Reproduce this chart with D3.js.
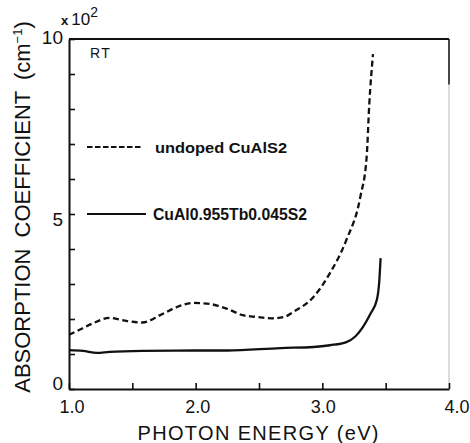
<!DOCTYPE html>
<html>
<head>
<meta charset="utf-8">
<script src="https://cdn.jsdelivr.net/npm/d3@7"></script>
<style>
  body { margin: 0; background: #fff; }
  svg { display: block; font-family: "Liberation Sans", Arial, sans-serif; }
</style>
</head>
<body>
<div id="chart"></div>
<script>
// undoped CuAlS2 (dashed)
const undopedE = [1.0, 1.1, 1.19, 1.32, 1.46, 1.58, 1.72, 1.85, 1.98, 2.11, 2.25, 2.37, 2.48, 2.6, 2.7, 2.77, 2.93, 3.06, 3.19, 3.3, 3.35, 3.37, 3.4];
const undopedA = [1.55, 1.72, 1.88, 2.03, 1.94, 1.9, 2.11, 2.34, 2.46, 2.43, 2.29, 2.11, 2.06, 2.02, 2.06, 2.2, 2.63, 3.31, 4.26, 5.49, 6.63, 8.1, 9.57];

// CuAl0.955Tb0.045S2 (solid)
const dopedE = [1.0, 1.11, 1.22, 1.32, 1.58, 2.0, 2.25, 2.67, 2.93, 3.06, 3.19, 3.26, 3.32, 3.38, 3.43, 3.45, 3.46];
const dopedA = [1.11, 1.09, 1.03, 1.06, 1.09, 1.1, 1.1, 1.17, 1.2, 1.25, 1.34, 1.5, 1.77, 2.15, 2.54, 3.1, 3.74];

const xMajor = [1, 2, 3, 4];
const xMinor = [1.5, 2.5, 3.5];
const xTickLabels = ["1.0", "2.0", "3.0", "4.0"];
const xLabelShift = [3, 2, 1, 8];
const yTicks = [0, 1, 2, 3, 4, 5, 6, 7, 8, 9, 10];
const yLabelled = [0, 5, 10];
const yLabelShift = [1, 12, 5];

const width = 470;
const height = 443;
const margin = { top: 39, right: 21, bottom: 54, left: 69 };

const svg = d3.select("#chart")
    .append("svg")
    .attr("width", width)
    .attr("height", height);

const x = d3.scaleLinear().domain([1, 4]).range([margin.left, width - margin.right]);
const y = d3.scaleLinear().domain([0, 10]).range([height - margin.bottom, margin.top]);

const toPoints = (es, as) => es.map((e, i) => [e, as[i]]);

const line = d3.line()
    .x(d => x(d[0]))
    .y(d => y(d[1]))
    .curve(d3.curveMonotoneX);

// frame: right side is faint in the scan
svg.append("line")
    .attr("x1", x(4)).attr("x2", x(4))
    .attr("y1", y(10)).attr("y2", y(0))
    .attr("stroke", "#d0d0d0").attr("stroke-width", 1.5);
svg.append("line")
    .attr("x1", x(4)).attr("x2", x(4))
    .attr("y1", y(10)).attr("y2", y(8.7))
    .attr("stroke", "#222").attr("stroke-width", 1.6);
svg.append("line")
    .attr("x1", x(1)).attr("x2", x(4))
    .attr("y1", y(10)).attr("y2", y(10))
    .attr("stroke", "#111").attr("stroke-width", 1.8);

// axes, ticks pointing inward
svg.append("g")
    .attr("transform", `translate(0,${y(0)})`)
    .call(d3.axisTop(x).tickValues(xMajor.concat(xMinor)).tickSize(6).tickSizeOuter(0).tickFormat(""))
    .call(g => g.select(".domain").attr("stroke-width", 2));

svg.append("g")
    .attr("transform", `translate(${x(1)},0)`)
    .call(d3.axisRight(y).tickValues(yTicks).tickSize(6).tickSizeOuter(0).tickFormat(""))
    .call(g => g.select(".domain").attr("stroke-width", 2));

svg.selectAll(".tick line").attr("stroke", "#111").attr("stroke-width", 1.6);
svg.selectAll(".domain").attr("stroke", "#111");

// tick labels
svg.selectAll(".xlab")
    .data(xMajor)
    .enter().append("text")
    .attr("x", (d, i) => x(d) + xLabelShift[i])
    .attr("y", y(0) + 24)
    .attr("text-anchor", "middle")
    .style("font-size", "18px")
    .style("fill", "#111")
    .text((d, i) => xTickLabels[i]);

svg.selectAll(".ylab")
    .data(yLabelled)
    .enter().append("text")
    .attr("x", x(1) - 6)
    .attr("y", (d, i) => y(d) + yLabelShift[i])
    .attr("text-anchor", "end")
    .style("font-size", "19px")
    .style("fill", "#111")
    .text(d => d);

// multiplier
const mult = svg.append("text")
    .attr("x", 61).attr("y", 25)
    .style("fill", "#111");
mult.append("tspan").style("font-size", "13px").style("font-weight", "bold").text("x");
mult.append("tspan").style("font-size", "17px").attr("dx", 3).text("10");
mult.append("tspan").style("font-size", "14px").attr("dy", -8).text("2");

// axis titles
svg.append("text")
    .attr("x", 258)
    .attr("y", 440)
    .attr("text-anchor", "middle")
    .attr("textLength", 241)
    .style("font-size", "20px")
    .style("fill", "#111")
    .text("PHOTON ENERGY (eV)");

const yt = svg.append("text")
    .attr("transform", "translate(30,207) rotate(-90)")
    .attr("text-anchor", "middle")
    .style("font-size", "22px")
    .style("word-spacing", "5px")
    .style("fill", "#111");
yt.append("tspan").text("ABSORPTION COEFFICIENT (cm");
yt.append("tspan").attr("dy", -8).style("font-size", "13px").text("−1");
yt.append("tspan").attr("dy", 8).text(")");

// RT
svg.append("text")
    .attr("x", 90).attr("y", 58)
    .style("font-size", "14px")
    .style("letter-spacing", "1.5px")
    .style("fill", "#111")
    .text("RT");

// curves
svg.append("path")
    .datum(toPoints(undopedE, undopedA))
    .attr("d", line)
    .attr("fill", "none")
    .attr("stroke", "#111")
    .attr("stroke-width", 2.3)
    .attr("stroke-dasharray", "6,3.5");

svg.append("path")
    .datum(toPoints(dopedE, dopedA))
    .attr("d", line)
    .attr("fill", "none")
    .attr("stroke", "#111")
    .attr("stroke-width", 2.3);

// legend
svg.append("line")
    .attr("x1", 87).attr("x2", 143)
    .attr("y1", 147).attr("y2", 147)
    .attr("stroke", "#111").attr("stroke-width", 2)
    .attr("stroke-dasharray", "5.5,2.5");
svg.append("text")
    .attr("x", 155).attr("y", 153)
    .attr("textLength", 132)
    .attr("lengthAdjust", "spacingAndGlyphs")
    .style("font-size", "15px")
    .style("font-weight", "bold")
    .style("fill", "#111")
    .text("undoped CuAlS2");

svg.append("line")
    .attr("x1", 87).attr("x2", 146)
    .attr("y1", 214).attr("y2", 214)
    .attr("stroke", "#111").attr("stroke-width", 1.8);
svg.append("text")
    .attr("x", 153).attr("y", 220)
    .attr("textLength", 154)
    .attr("lengthAdjust", "spacingAndGlyphs")
    .style("font-size", "16px")
    .style("font-weight", "bold")
    .style("fill", "#111")
    .text("CuAl0.955Tb0.045S2");
</script>
</body>
</html>
